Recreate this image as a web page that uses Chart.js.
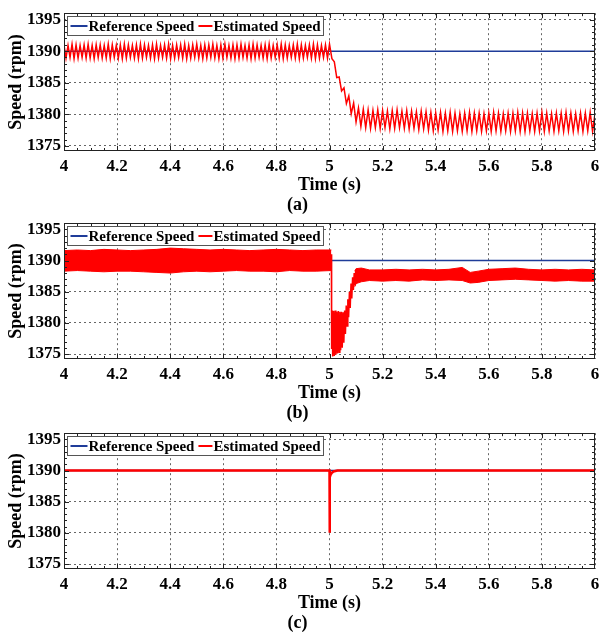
<!DOCTYPE html>
<html>
<head>
<meta charset="utf-8">
<script src="https://cdn.jsdelivr.net/npm/chart.js@4.4.1/dist/chart.umd.min.js"></script>
<style>
    body { margin: 0; background: #fff; width: 599px; height: 635px; position: relative; overflow: hidden; }
    canvas { position: absolute; left: 0; }
</style>
</head>
<body>
<canvas id="panelA" width="599" height="214" style="top:0px"></canvas>
<canvas id="panelB" width="599" height="212" style="top:210px"></canvas>
<canvas id="panelC" width="599" height="212" style="top:420px"></canvas>
<script>
// ============================================
// Data
// ============================================

const X_TICK_LABELS = ['4', '4.2', '4.4', '4.6', '4.8', '5', '5.2', '5.4', '5.6', '5.8', '6'];
const Y_TICK_LABELS = ['1375', '1380', '1385', '1390', '1395'];
const LEGEND_LABELS = ['Reference Speed', 'Estimated Speed'];
const PANEL_LABELS = ['(a)', '(b)', '(c)'];

// reference speed, same in every panel
const refTime = [4, 6];
const refSpeed = [1390, 1390];

// (a) fixed-step samples: before the load step, then after it
const A_PRE_DT = 1 / 132;
const aPreSpeed = [
    1391.0, 1388.9, 1390.9, 1389.0, 1391.1, 1388.8, 1391.0, 1388.9, 1390.9, 1389.0,
    1391.0, 1388.9, 1391.1, 1388.9, 1390.9, 1388.8, 1391.0, 1389.0, 1391.0, 1388.9,
    1390.9, 1388.9, 1391.1, 1388.8, 1391.0, 1389.0, 1390.9, 1388.9, 1391.0, 1388.8,
    1391.1, 1388.9, 1391.0, 1389.0, 1390.9, 1388.9, 1391.0, 1388.8, 1391.1, 1388.9,
    1391.0, 1389.0, 1390.9, 1388.9, 1391.0, 1388.8, 1391.1, 1388.9, 1390.9, 1389.0,
    1391.0, 1388.9, 1391.1, 1388.8, 1390.9, 1388.9, 1391.0, 1389.0, 1391.0, 1388.9,
    1391.1, 1388.8, 1390.9, 1388.9, 1391.0, 1389.0, 1391.1, 1388.9, 1390.9, 1388.8,
    1391.0, 1388.9, 1391.0, 1389.0, 1391.1, 1388.9, 1390.9, 1388.8, 1391.0, 1388.9,
    1391.1, 1389.0, 1390.9, 1388.9, 1391.0, 1388.8, 1391.0, 1388.9, 1391.1, 1389.0,
    1390.9, 1388.9, 1391.0, 1388.8, 1391.1, 1388.9, 1391.0, 1389.0, 1390.9, 1388.9,
    1391.0, 1388.8, 1391.1, 1388.9, 1390.9, 1389.0, 1391.0, 1388.9, 1391.1, 1388.8,
    1391.0, 1388.9, 1390.9, 1389.0, 1391.0, 1388.9, 1391.1, 1388.8, 1391.0, 1388.9,
    1390.9, 1389.0, 1391.0, 1388.9, 1391.1, 1388.8, 1391.0, 1388.9, 1390.9, 1389.0,
    1391.0, 1388.9, 1391.1
];
const A_POST_DT = 1 / 110;
const aPostSpeed = [
    1388.8, 1388.3, 1385.8, 1385.9, 1383.7, 1384.2, 1381.7, 1382.9, 1380.1, 1381.8,
    1378.8, 1381.0, 1378.1, 1380.8, 1377.9, 1380.7, 1377.8, 1380.6, 1377.9, 1380.7,
    1377.8, 1380.6, 1377.9, 1380.5, 1377.7, 1380.6, 1377.8, 1380.7, 1377.9, 1380.5,
    1377.8, 1380.6, 1377.7, 1380.5, 1377.8, 1380.4, 1377.6, 1380.5, 1377.7, 1380.4,
    1377.5, 1380.3, 1377.4, 1380.2, 1377.5, 1380.3, 1377.3, 1380.2, 1377.4, 1380.3,
    1377.3, 1380.2, 1377.4, 1380.1, 1377.3, 1380.2, 1377.4, 1380.3, 1377.3, 1380.2,
    1377.4, 1380.2, 1377.3, 1380.1, 1377.4, 1380.2, 1377.3, 1380.3, 1377.4, 1380.2,
    1377.3, 1380.1, 1377.4, 1380.2, 1377.3, 1380.2, 1377.4, 1380.3, 1377.3, 1380.2,
    1377.3, 1380.2, 1377.4, 1380.1, 1377.3, 1380.2, 1377.4, 1380.3, 1377.3, 1380.2,
    1377.4, 1380.1, 1377.3, 1380.2, 1377.4, 1380.2, 1377.3, 1380.3, 1377.4, 1380.2,
    1377.3, 1380.1, 1377.4, 1380.2, 1377.3, 1380.2, 1377.4, 1380.3, 1377.3, 1380.1
];

// (b) noise band envelope before the step
const bPreTime  = [4.00, 4.05, 4.10, 4.15, 4.20, 4.25, 4.30, 4.35, 4.40, 4.45, 4.50,
                   4.55, 4.60, 4.65, 4.70, 4.75, 4.80, 4.85, 4.90, 4.95, 5.007];
const bPreUpper = [1391.6, 1391.7, 1391.6, 1391.8, 1391.7, 1391.6, 1391.7, 1391.8, 1392.0, 1391.9, 1391.8,
                   1391.7, 1391.8, 1391.7, 1391.6, 1391.7, 1391.8, 1391.7, 1391.6, 1391.7, 1391.7];
const bPreLower = [1388.3, 1388.4, 1388.3, 1388.2, 1388.3, 1388.3, 1388.2, 1388.1, 1388.0, 1388.2, 1388.3,
                   1388.2, 1388.3, 1388.4, 1388.3, 1388.3, 1388.2, 1388.4, 1388.3, 1388.3, 1388.4];
// (b) dip right after the step
const bDipTime  = [5.007, 5.008, 5.010, 5.012, 5.015, 5.018, 5.021, 5.024, 5.027, 5.030, 5.033,
                   5.036, 5.039, 5.042, 5.045, 5.048, 5.051, 5.054, 5.057, 5.060, 5.063, 5.066,
                   5.069, 5.072, 5.075, 5.078, 5.081, 5.084, 5.087, 5.090, 5.093, 5.096, 5.099];
const bDipSpeed = [1391.0, 1375.8, 1382.0, 1374.6, 1381.9, 1374.7, 1382.0, 1374.9, 1381.8, 1375.1, 1381.9,
                   1375.3, 1381.8, 1375.6, 1381.8, 1376.0, 1381.7, 1376.8, 1382.0, 1378.2, 1382.8, 1379.5,
                   1383.8, 1380.9, 1385.0, 1382.4, 1386.3, 1383.9, 1387.3, 1385.3, 1388.0, 1386.0, 1388.5];
// (b) noise band envelope after recovery
const bPostTime  = [5.095, 5.10, 5.12, 5.15, 5.20, 5.25, 5.30, 5.35, 5.40, 5.45, 5.50,
                    5.53, 5.56, 5.60, 5.65, 5.70, 5.75, 5.80, 5.85, 5.90, 5.95, 6.00];
const bPostUpper = [1388.3, 1388.7, 1388.8, 1388.5, 1388.5, 1388.6, 1388.5, 1388.6, 1388.5, 1388.6, 1388.9,
                    1388.1, 1388.3, 1388.6, 1388.7, 1388.8, 1388.6, 1388.5, 1388.6, 1388.5, 1388.6, 1388.5];
const bPostLower = [1385.8, 1386.3, 1386.6, 1386.8, 1386.7, 1386.8, 1386.7, 1386.9, 1386.8, 1386.9, 1386.8,
                    1386.4, 1386.5, 1386.8, 1386.9, 1387.0, 1386.9, 1386.8, 1386.7, 1386.8, 1386.7, 1386.7];

// (c) estimated speed
const cTime  = [4, 5.0, 5.0006, 5.0012, 5.004, 5.008, 5.015, 5.03, 6];
const cSpeed = [1390, 1390, 1380.0, 1388.9, 1389.3, 1389.6, 1389.85, 1390, 1390];

// ============================================
// Style
// ============================================

const FONT = '"Liberation Serif", "Times New Roman", serif';
const RED = '#ff0000';
const BLUE = '#1f3c99';

function points(xs, ys) {
    return xs.map((x, i) => ({ x: x, y: ys[i] }));
}

function stepPoints(t0, dt, ys) {
    return ys.map((y, i) => ({ x: t0 + i * dt, y: y }));
}

// border, inward ticks and boxed legend, MATLAB style
const panelFrame = {
    id: 'panelFrame',
    afterDatasetsDraw(chart) {
        const { ctx, chartArea: a, scales: { x, y } } = chart;
        ctx.save();
        ctx.strokeStyle = '#222';
        ctx.lineWidth = 1;
        ctx.beginPath();
        for (let k = 1; k < 40; k++) {
            const px = Math.round(x.getPixelForValue(4 + k * 0.05)) + 0.5;
            const len = k % 4 === 0 ? 5 : 3;
            ctx.moveTo(px, a.bottom); ctx.lineTo(px, a.bottom - len);
            ctx.moveTo(px, a.top); ctx.lineTo(px, a.top + len);
        }
        for (let v = 1375; v <= 1395; v++) {
            const py = Math.round(y.getPixelForValue(v)) + 0.5;
            const len = v % 5 === 0 ? 5 : 3;
            ctx.moveTo(a.left, py); ctx.lineTo(a.left + len, py);
            ctx.moveTo(a.right, py); ctx.lineTo(a.right - len, py);
        }
        ctx.stroke();
        ctx.strokeRect(Math.round(a.left) + 0.5, Math.round(a.top) + 0.5,
                       Math.round(a.width) - 1, Math.round(a.height) - 1);

        // legend
        ctx.font = 'bold 15px ' + FONT;
        const w1 = ctx.measureText(LEGEND_LABELS[0]).width;
        const w2 = ctx.measureText(LEGEND_LABELS[1]).width;
        const bx = Math.round(a.left) + 3.5, by = Math.round(a.top) + 3.5, bh = 19;
        const bw = Math.round(3 + 17 + 1 + w1 + 4 + 14 + 1 + w2 + 3);
        ctx.fillStyle = '#fff';
        ctx.fillRect(bx, by, bw, bh);
        ctx.strokeStyle = '#555';
        ctx.strokeRect(bx, by, bw, bh);
        const cy = by + bh / 2;
        ctx.lineWidth = 2;
        ctx.strokeStyle = BLUE;
        ctx.beginPath(); ctx.moveTo(bx + 3, cy); ctx.lineTo(bx + 20, cy); ctx.stroke();
        const x2 = bx + 21 + w1 + 4;
        ctx.strokeStyle = RED;
        ctx.beginPath(); ctx.moveTo(x2, cy); ctx.lineTo(x2 + 14, cy); ctx.stroke();
        ctx.fillStyle = '#000';
        ctx.textBaseline = 'middle';
        ctx.fillText(LEGEND_LABELS[0], bx + 21, cy + 1);
        ctx.fillText(LEGEND_LABELS[1], x2 + 15, cy + 1);
        ctx.restore();
    }
};

function makePanel(canvasId, label, padTop, datasets) {
    const ctx = document.getElementById(canvasId);
    return new Chart(ctx, {
        type: 'line',
        data: { datasets: datasets },
        options: {
            responsive: false,
            animation: false,
            layout: { padding: { top: padTop, right: 4, left: 0, bottom: 0 } },
            elements: { point: { radius: 0 }, line: { tension: 0 } },
            plugins: {
                legend: { display: false },
                tooltip: { enabled: false },
                title: {
                    display: true, text: label, position: 'bottom', color: '#000', padding: 0,
                    font: { family: FONT, size: 18, weight: 'bold', lineHeight: 1 }
                }
            },
            scales: {
                x: {
                    type: 'linear', min: 4, max: 6,
                    ticks: {
                        stepSize: 0.2, includeBounds: false, autoSkip: false, maxRotation: 0,
                        padding: 5, color: '#000',
                        font: { family: FONT, size: 17, weight: 'bold' },
                        callback: v => X_TICK_LABELS.find(l => Math.abs(+l - v) < 1e-6)
                    },
                    grid: { color: '#666', lineWidth: 1, drawTicks: false },
                    border: { display: false, dash: [2, 3] },
                    title: {
                        display: true, text: 'Time (s)', color: '#000', padding: 0,
                        font: { family: FONT, size: 18, weight: 'bold' }
                    },
                    afterFit: s => {
                        s.height = 45;
                        // edge labels may overhang, keep the plot box fixed
                        s.paddingLeft = 0;
                        s.paddingRight = 0;
                    }
                },
                y: {
                    min: 1374.2, max: 1396,
                    ticks: {
                        stepSize: 5, includeBounds: false, padding: 3, color: '#000',
                        font: { family: FONT, size: 17, weight: 'bold' },
                        callback: v => Y_TICK_LABELS.find(l => Math.abs(+l - v) < 1e-6)
                    },
                    grid: { color: '#666', lineWidth: 1, drawTicks: false },
                    border: { display: false, dash: [2, 3] },
                    title: {
                        display: true, text: 'Speed (rpm)', color: '#000', padding: { top: 6 },
                        font: { family: FONT, size: 18, weight: 'bold' }
                    },
                    afterFit: s => { s.width = 64; }
                }
            }
        },
        plugins: [panelFrame]
    });
}

function refDataset() {
    return {
        data: points(refTime, refSpeed), borderColor: BLUE, borderWidth: 1.5, order: 2
    };
}

function redLine(data, width) {
    return { data: data, borderColor: RED, borderWidth: width, order: 1 };
}

function redBand(xs, lower) {
    return {
        data: points(xs, lower), borderColor: RED, borderWidth: 1,
        backgroundColor: RED, fill: '-1', order: 1
    };
}

// (a)
makePanel('panelA', PANEL_LABELS[0], 10, [
    refDataset(),
    redLine(stepPoints(4, A_PRE_DT, aPreSpeed).concat(stepPoints(5 + A_POST_DT, A_POST_DT, aPostSpeed)), 1.5)
]);

// (b)
makePanel('panelB', PANEL_LABELS[1], 10, [
    refDataset(),
    redLine(points(bPreTime, bPreUpper), 1),
    redBand(bPreTime, bPreLower),
    redLine(points(bDipTime, bDipSpeed), 1.5),
    redLine(points(bPostTime, bPostUpper), 1),
    redBand(bPostTime, bPostLower)
]);

// (c)
makePanel('panelC', PANEL_LABELS[2], 7, [
    refDataset(),
    redLine(points(cTime, cSpeed), 2.5)
]);
</script>
</body>
</html>
